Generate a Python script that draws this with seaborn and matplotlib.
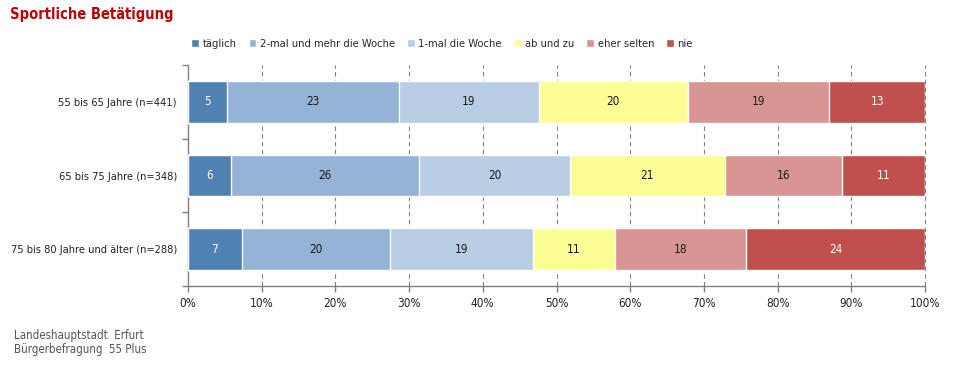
import numpy as np
import pandas as pd
import matplotlib.pyplot as plt
import seaborn as sns

# Daten
gruppen = ["55 bis 65 Jahre (n=441)", "65 bis 75 Jahre (n=348)", "75 bis 80 Jahre und älter (n=288)"]
kategorien = ["täglich", "2-mal und mehr die Woche", "1-mal die Woche", "ab und zu", "eher selten", "nie"]
taeglich = [5.3, 5.8, 7.3]
zwei_mal = [23.3, 25.6, 20.1]
ein_mal = [19.0, 20.4, 19.4]
ab_und_zu = [20.2, 21.0, 11.1]
eher_selten = [19.2, 16.0, 17.8]
nie = [13.0, 11.2, 24.3]
farben = ["#4F81B2", "#95B3D7", "#B9CDE5", "#FDFD96", "#D99594", "#C0504D"]
text_farben = ["white", "#1a1a1a", "#1a1a1a", "#1a1a1a", "#1a1a1a", "white"]

werte = [taeglich, zwei_mal, ein_mal, ab_und_zu, eher_selten, nie]
df = pd.DataFrame(dict(zip(kategorien, werte)), index=gruppen)
kum = df.cumsum(axis=1)

sns.set_style("white")
plt.rcParams["font.family"] = ["DejaVu Sans"]
plt.rcParams["font.stretch"] = "condensed"

fig = plt.figure(figsize=(9.6, 3.65), dpi=100)
ax = fig.add_axes([188 / 960, 1 - 286 / 365, 737 / 960, 221 / 365])

# gestapelte Balken: von hinten nach vorne zeichnen
for i in range(len(kategorien) - 1, -1, -1):
    k = kategorien[i]
    sns.barplot(x=kum[k].values, y=gruppen, orient="h", color=farben[i],
                width=0.57, saturation=1, label=k, ax=ax, zorder=3)

for i, k in enumerate(kategorien):
    for j, g in enumerate(gruppen):
        v = df.loc[g, k]
        ax.text(kum.loc[g, k] - v / 2, j, f"{v:.0f}", ha="center", va="center",
                fontsize=8.5, color=text_farben[i], zorder=4)

ax.set_xlim(0, 100)
ax.set_ylim(2.5, -0.5)
ax.set_xticks(np.arange(0, 101, 10))
ax.set_xticklabels([f"{t}%" for t in range(0, 101, 10)], fontsize=8.5, color="#222222")
ax.set_yticks(range(3))
ax.set_yticklabels(gruppen, fontsize=7.9, color="#222222")
ax.set_yticks([-0.5, 0.5, 1.5, 2.5], minor=True)
ax.tick_params(axis="y", which="major", length=0, pad=8, left=False)
ax.tick_params(axis="y", which="minor", length=4, width=1, color="#808080",
               direction="out", left=True)
ax.tick_params(axis="x", length=4, width=1, color="#808080", direction="out",
               pad=4, bottom=True)
ax.set_xlabel("")
ax.set_ylabel("")

for x in range(10, 101, 10):
    ax.axvline(x, color="#808080", lw=0.8, ls=(0, (4, 3)), zorder=1, clip_on=False)

sns.despine(ax=ax, top=True, right=True)
for s in ["left", "bottom"]:
    ax.spines[s].set_color("#808080")
    ax.spines[s].set_linewidth(1)

handles, labels = ax.get_legend_handles_labels()
if ax.get_legend() is not None:
    ax.get_legend().remove()
handles, labels = handles[::-1], labels[::-1]
fig.legend(handles, labels, loc="center", bbox_to_anchor=(442 / 960, 1 - 44 / 365),
           ncol=6, frameon=False, fontsize=8, handlelength=0.7, handleheight=0.7,
           handletextpad=0.3, columnspacing=1.1)

fig.text(10 / 960, 1 - 15 / 365, "Sportliche Betätigung", fontsize=10.5, fontweight="bold",
         color="#C00000", va="center", ha="left")
fig.text(14 / 960, 1 - 335 / 365, "Landeshauptstadt  Erfurt", fontsize=8.3,
         color="#555555", va="center", ha="left")
fig.text(14 / 960, 1 - 349 / 365, "Bürgerbefragung  55 Plus", fontsize=8.3,
         color="#555555", va="center", ha="left")

fig.savefig("out.png", dpi=100)
